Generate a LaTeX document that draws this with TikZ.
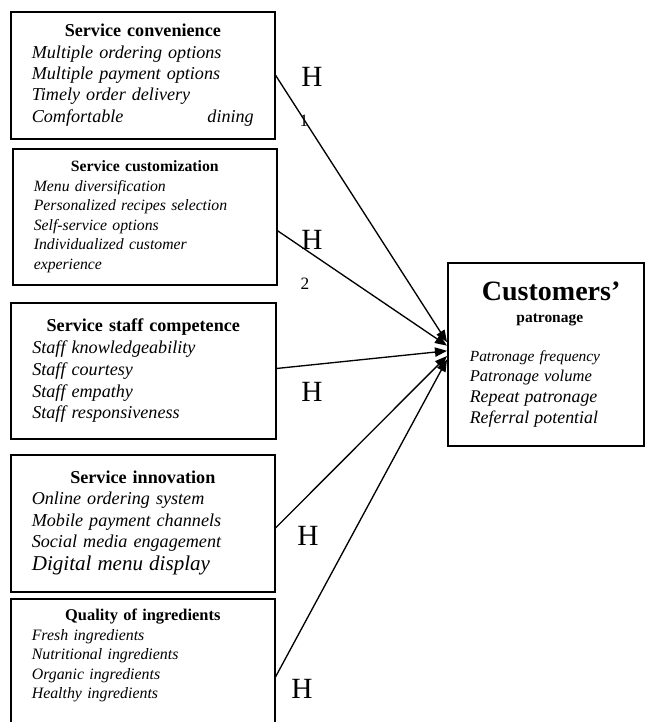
\documentclass[tikz,border=0pt]{standalone}
\usepackage{fontspec}
\setmainfont{Liberation Serif}
\usetikzlibrary{arrows.meta}

\begin{document}
\begin{tikzpicture}[x=0.75pt, y=-0.75pt,
    factor/.style={draw=black, line width=1.2pt, anchor=north west, align=left, text width=166.5pt, inner xsep=15.75pt, inner ysep=0pt, font=\fontsize{13.6}{16}\selectfont\itshape},
    outcome/.style={draw=black, line width=1.2pt, anchor=north west, align=left, text width=114pt, inner xsep=16.5pt, inner ysep=0pt, font=\fontsize{11.6}{15.4}\selectfont},
    arr/.style={-{Triangle[length=9pt, width=7pt]}, line width=1pt},
    hlab/.style={font=\fontsize{22}{24}\selectfont, inner sep=0pt},
    hnum/.style={font=\fontsize{13}{14}\selectfont, inner sep=0pt}
  ]
    \useasboundingbox (0,0) rectangle (645,722);

    \node[factor, minimum width=198pt, minimum height=95.25pt] (conv) at (10,11) {\hfill{\normalfont\bfseries Service convenience}\hfill\null\\ Multiple ordering options\\ Multiple payment options\\ Timely order delivery\\ Comfortable\hfill dining};
    \node[factor, minimum width=197.25pt, minimum height=102pt, font=\fontsize{11.8}{14.6}\selectfont\itshape] (cust) at (12,148) {\hfill{\normalfont\bfseries Service customization}\hfill\null\\ Menu diversification\\ Personalized recipes selection\\ Self-service options\\ Individualized customer\\ experience};
    \node[factor, minimum width=198.75pt, minimum height=102pt, font=\fontsize{13.6}{16.4}\selectfont\itshape] (staff) at (10,302) {\hfill{\normalfont\bfseries Service staff competence}\hfill\null\\ Staff knowledgeability\\ Staff courtesy\\ Staff empathy\\ Staff responsiveness};
    \node[factor, minimum width=198pt, minimum height=102.75pt] (innov) at (10,454) {\hfill{\normalfont\bfseries Service innovation}\hfill\null\\ Online ordering system\\ Mobile payment channels\\ Social media engagement\\[1.5pt] {\fontsize{15.8}{18}\selectfont Digital menu display}};
    \node[factor, minimum width=197.25pt, minimum height=96pt, font=\fontsize{11.9}{14.6}\selectfont\itshape] (ingr) at (10,598) {\hfill{\normalfont\bfseries\fontsize{12.3}{14.6}\selectfont Quality of ingredients}\hfill\null\\ Fresh ingredients\\ Nutritional ingredients\\ Organic ingredients\\ Healthy ingredients\\[-1.5pt]\null};

    \node[outcome, minimum width=147pt, minimum height=137.25pt] (pat) at (447,262) {\hfill\hspace*{8pt}{\fontsize{21}{24}\selectfont\bfseries Customers'}\hfill\null\\[1pt] \hfill\hspace*{6pt}{\bfseries patronage}\hfill\null\\[14pt] \textit{Patronage frequency}\\ {\fontsize{12.4}{15}\selectfont\itshape Patronage volume}\\ {\fontsize{13.4}{15}\selectfont\itshape Repeat patronage}\\ {\fontsize{13.4}{15}\selectfont\itshape Referral potential}};

    \node[hlab] (h1) at (312,77) {H};
    \node[hnum] (n1) at (304,121) {1};
    \node[hlab] (h2) at (312,240) {H};
    \node[hnum] (n2) at (305,284) {2};
    \node[hlab] (h3) at (312,392) {H};
    \node[hlab] (h4) at (308,536) {H};
    \node[hlab] (h5) at (302,689) {H};

    \draw[arr] (conv.east) -- (pat.173);
    \draw[arr] (cust.-6) -- (pat.175.5);
    \draw[arr] (staff.1) -- (pat.178);
    \draw[arr] (innov.-2) -- (pat.181);
    \draw[arr] (ingr.-6) -- (pat.183.5);
  \end{tikzpicture}
\end{document}
